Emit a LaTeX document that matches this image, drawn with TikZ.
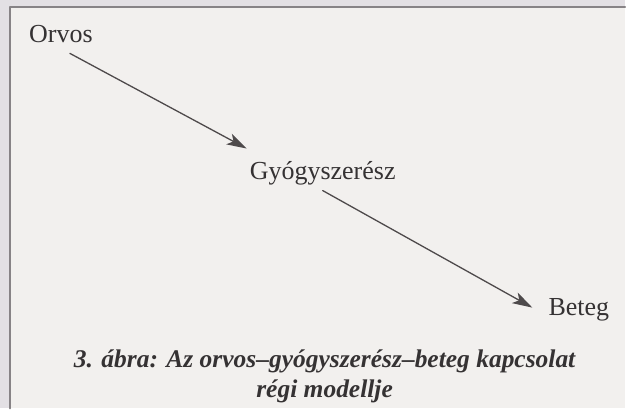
\documentclass[tikz,border=0pt]{standalone}
\usepackage{fontspec}
\setmainfont{Liberation Serif}
\usetikzlibrary{arrows.meta,positioning}
\definecolor{scInk}{HTML}{353233}
\definecolor{scLine}{HTML}{4E4A4B}
\definecolor{scPaper}{HTML}{F2F0EE}
\definecolor{scMargin}{HTML}{E3E0E4}
\definecolor{scFrame}{HTML}{878386}
\tikzset{
 scan/.style={line cap=round,line join=round,text=scInk,x=1pt,y=1pt},
 word/.style={font=\fontsize{26}{29}\selectfont,inner sep=0pt,anchor=base west},
 link/.style={draw=scLine,line width=1.3pt,-{Stealth[length=20pt,width=12pt,inset=5pt]}},
 captext/.style={font=\fontsize{25.5}{30}\selectfont\bfseries\itshape,align=center,inner sep=0pt}
}

\begin{document}
\begin{tikzpicture}[scan]
 \fill[scMargin] (0,0) rectangle (626,-409);
 \fill[scPaper] (10,-7) rectangle (626,-409);
 \draw[scFrame,line width=1.6pt] (10,-409)--(10,-7)--(626,-7);
 \useasboundingbox (0,0) rectangle (626,-409);
 \node[word] (orvos) at (29,-43) {Orvos};
 \node[word] (gysz) at (250,-180) {Gyógyszerész};
 \node[word] (beteg) at (549,-316) {Beteg};
 \draw[link] ([xshift=9pt,yshift=-10pt]orvos.south) -- ([xshift=-3pt,yshift=13pt]gysz.north west);
 \draw[link] ([yshift=-5pt]gysz.south) -- ([xshift=-16pt,yshift=8pt]beteg.base west);
 \node[captext] (cap) at (325,-377) {3. ábra: Az orvos–gyógyszerész–beteg kapcsolat\\régi modellje};
\end{tikzpicture}
\end{document}
